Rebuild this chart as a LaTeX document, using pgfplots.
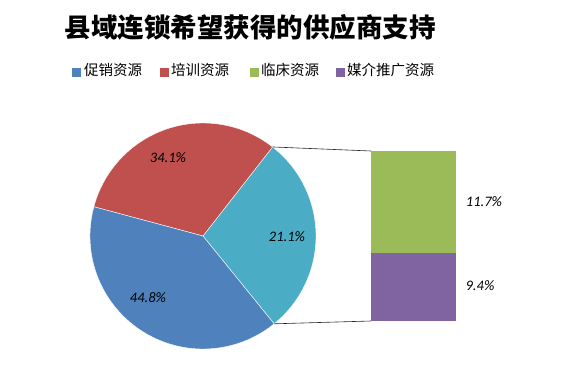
\documentclass[border=0pt]{standalone}
\usepackage{pgfplots}
\pgfplotsset{compat=1.18}
\usepackage{fontspec}
\setmainfont{Carlito}
\newfontfamily\cjk{Noto Sans CJK SC}
\definecolor{cblue}{HTML}{4F81BD}
\definecolor{cred}{HTML}{C0504D}
\definecolor{cgreen}{HTML}{9BBB59}
\definecolor{cpurple}{HTML}{8064A2}
\definecolor{ccyan}{HTML}{4BACC6}
% drawn slice sizes (degrees) of the first pie: other(21.1%), 培训(34.1%), 促销(44.8%)
\def\angOther{103}
\def\angRed{113}
\def\angBlue{144}
\def\startAng{-51}
\begin{document}
\begin{tikzpicture}
\begin{axis}[x=1pt,y=1pt,xmin=0,xmax=569,ymin=0,ymax=367,hide axis,clip=false]
\path (0,0) rectangle (569,367);
\pgfmathsetmacro{\aA}{\startAng}
\pgfmathsetmacro{\aB}{\aA+\angOther}
\pgfmathsetmacro{\aC}{\aB+\angRed}
\pgfmathsetmacro{\aD}{\aC+\angBlue}
\filldraw[fill=ccyan,draw=white,line width=0.4pt] (203,131) -- ++(\aA:113pt) arc[start angle=\aA,end angle=\aB,radius=113pt] -- cycle;
\filldraw[fill=cred,draw=white,line width=0.4pt] (203,131) -- ++(\aB:113pt) arc[start angle=\aB,end angle=\aC,radius=113pt] -- cycle;
\filldraw[fill=cblue,draw=white,line width=0.4pt] (203,131) -- ++(\aC:113pt) arc[start angle=\aC,end angle=\aD,radius=113pt] -- cycle;
% connector lines
\draw[black!85,line width=0.6pt] (203,131) ++(\aB:113pt) -- (371,216);
\draw[black!85,line width=0.6pt] (203,131) ++(\aA:113pt) -- (371,46);
% bar of second chart
\addplot[fill=cgreen,draw=none] coordinates {(371,114.3) (456,114.3) (456,216) (371,216)} -- cycle;
\addplot[fill=cpurple,draw=none] coordinates {(371,46) (456,46) (456,114.3) (371,114.3)} -- cycle;
% labels
\begin{scope}[every node/.style={font=\itshape\fontsize{14.5}{17}\selectfont,inner sep=0pt}]
\node at (168,209) {34.1\%};
\node at (287,130) {21.1\%};
\node at (148,69) {44.8\%};
\node at (484,165) {11.7\%};
\node at (480,81) {9.4\%};
\end{scope}
% title
\node[font=\cjk\bfseries\fontsize{26.5}{30}\selectfont,inner sep=0pt] at (250,340) {县域连锁希望获得的供应商支持};
% legend
\fill[cblue] (72,289.7) rectangle (81,299.3);
\fill[cred] (160,289.7) rectangle (169,299.3);
\fill[cgreen] (250,289.7) rectangle (259,299.3);
\fill[cpurple] (336,289.7) rectangle (345,299.3);
\begin{scope}[every node/.style={font=\cjk\fontsize{14.5}{17}\selectfont,inner sep=0pt,anchor=west}]
\node at (84,297) {促销资源};
\node at (171,297) {培训资源};
\node at (261,297) {临床资源};
\node at (347,297) {媒介推广资源};
\end{scope}
\end{axis}
\end{tikzpicture}
\end{document}
